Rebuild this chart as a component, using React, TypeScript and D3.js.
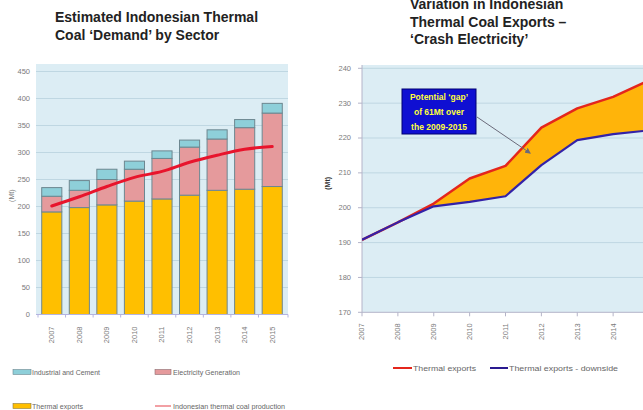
import React from "react";
import * as d3 from "d3";

// Demand by sector (Mt)
const years = ["2007", "2008", "2009", "2010", "2011", "2012", "2013", "2014", "2015"];
const thermalExportsDemand = [190, 198, 203, 210, 214, 221, 230, 232, 237];
const electricityGeneration = [29, 32, 47, 59, 75, 89, 95, 114, 136];
const industrialCement = [16, 18, 19, 15, 14, 13, 17, 15, 18];
const coalProduction = [201, 218, 237, 254, 265, 282, 295, 306, 311];
const demandTicks = [0, 50, 100, 150, 200, 250, 300, 350, 400, 450];

// Export scenarios (Mt)
const exportYears = [2007, 2008, 2009, 2010, 2011, 2012, 2013, 2014, 2015];
const thermalExports = [190.8, 195.8, 201.2, 208.4, 212, 223, 228.5, 231.8, 236.5];
const thermalExportsDownside = [190.8, 195.8, 200.4, 201.7, 203.3, 212.2, 219.4, 221.1, 222.2];
const exportTicks = [170, 180, 190, 200, 210, 220, 230, 240];

const W = 643;
const H = 410;
const PLOT_BG = "#dcedf4";
const GRID = "#bfd7e2";
const TICK_TXT = "#7a7a7a";
const FONT = "'Liberation Sans', Arial, sans-serif";

const seriesColors = {
  thermal: "#ffbf00",
  electricity: "#e59a9c",
  industrial: "#8ecfd9",
};

export default function App() {
  // Left chart scales
  const xL = d3.scaleBand<string>().domain(years).range([38, 286]).paddingInner(0.27).paddingOuter(0.135);
  const yL = d3.scaleLinear().domain([0, 450]).range([314.5, 71.5]);

  const stacked = d3
    .stack<number>()
    .keys(["thermal", "electricity", "industrial"])
    .value((i, key) =>
      key === "thermal" ? thermalExportsDemand[i] : key === "electricity" ? electricityGeneration[i] : industrialCement[i]
    )(d3.range(years.length));

  const prodLine = d3
    .line<number>()
    .x((_, i) => (xL(years[i]) as number) + xL.bandwidth() / 2)
    .y((d) => yL(d))
    .curve(d3.curveMonotoneX);

  // Right chart scales
  const xR = d3.scaleLinear().domain([2007, 2015]).range([362, 649]);
  const yR = d3.scaleLinear().domain([170, 240]).range([312.3, 68.3]);

  const exportLine = d3
    .line<number>()
    .x((_, i) => xR(exportYears[i]))
    .y((d) => yR(d));

  const gapArea = d3
    .area<number>()
    .x((i) => xR(exportYears[i]))
    .y0((i) => yR(thermalExportsDownside[i]))
    .y1((i) => yR(thermalExports[i]));

  const arrowStart: [number, number] = [477, 117];
  const arrowEnd: [number, number] = [530, 153];

  return (
    <svg
      width={W}
      height={H}
      style={{ position: "absolute", left: 0, top: 0, background: "#ffffff" }}
      fontFamily={FONT}
    >
      <defs>
        <marker id="arrowHead" viewBox="0 0 10 10" refX="8" refY="5" markerWidth="6" markerHeight="6" orient="auto">
          <path d="M0,0 L10,5 L0,10 z" fill="#6a6a7a" />
        </marker>
        <clipPath id="rightClip">
          <rect x={362} y={60} width={W - 362} height={260} />
        </clipPath>
      </defs>

      {/* ---------- Left: demand by sector ---------- */}
      <text x={55} y={22} fontSize={14} fontWeight="bold" fill="#222">
        Estimated Indonesian Thermal
      </text>
      <text x={55} y={39.5} fontSize={14} fontWeight="bold" fill="#222">
        Coal ‘Demand’ by Sector
      </text>

      <rect x={36} y={64} width={252} height={yL(0) - 64} fill={PLOT_BG} />
      {demandTicks.map((t) => (
        <g key={t}>
          {t > 0 && <line x1={36} x2={288} y1={yL(t)} y2={yL(t)} stroke={GRID} strokeWidth={1} />}
          <text x={30} y={yL(t)} dy="0.32em" fontSize={7.5} fill={TICK_TXT} textAnchor="end">
            {t}
          </text>
        </g>
      ))}
      <text
        transform={`translate(14,${yL(220)}) rotate(-90)`}
        fontSize={7}
        fill={TICK_TXT}
        textAnchor="middle"
      >
        (Mt)
      </text>

      {stacked.map((layer) => (
        <g key={layer.key}>
          {layer.map((seg, i) => (
            <rect
              key={years[i]}
              x={xL(years[i])}
              width={xL.bandwidth()}
              y={yL(seg[1])}
              height={yL(seg[0]) - yL(seg[1])}
              fill={seriesColors[layer.key as keyof typeof seriesColors]}
              stroke="#6d8790"
              strokeWidth={1}
            />
          ))}
        </g>
      ))}

      <line x1={36} x2={288} y1={yL(0)} y2={yL(0)} stroke="#b4b4e0" strokeWidth={1.2} />
      {years.map((y, i) => (
        <g key={y}>
          <line
            x1={(xL(y) as number) - (xL.step() - xL.bandwidth()) / 2}
            x2={(xL(y) as number) - (xL.step() - xL.bandwidth()) / 2}
            y1={yL(0)}
            y2={yL(0) + 3}
            stroke="#b4b4e0"
          />
          {i === years.length - 1 && (
            <line x1={288} x2={288} y1={yL(0)} y2={yL(0) + 3} stroke="#b4b4e0" />
          )}
          <text
            transform={`translate(${(xL(y) as number) + xL.bandwidth() / 2},${yL(0) + 12}) rotate(-90)`}
            fontSize={7.5}
            fill={TICK_TXT}
            textAnchor="end"
            dy="0.32em"
          >
            {y}
          </text>
        </g>
      ))}

      <path d={prodLine(coalProduction) ?? ""} fill="none" stroke="#e8142c" strokeWidth={3} strokeLinecap="round" />

      {/* left legend */}
      <rect x={13} y={369.5} width={18} height={5} fill={seriesColors.industrial} stroke="#6d8790" strokeWidth={0.6} />
      <text x={32} y={372} dy="0.32em" fontSize={8} fill="#666" textLength={68} lengthAdjust="spacingAndGlyphs">
        Industrial and Cement
      </text>
      <rect x={155} y={369.5} width={16} height={5} fill={seriesColors.electricity} stroke="#8a6a6e" strokeWidth={0.6} />
      <text x={173} y={372} dy="0.32em" fontSize={8} fill="#666" textLength={67} lengthAdjust="spacingAndGlyphs">
        Electricity Generation
      </text>
      <rect x={13} y={403.5} width={18} height={5} fill={seriesColors.thermal} stroke="#8a7a40" strokeWidth={0.6} />
      <text x={32} y={406} dy="0.32em" fontSize={8} fill="#666" textLength={51} lengthAdjust="spacingAndGlyphs">
        Thermal exports
      </text>
      <line x1={155} x2={171} y1={406} y2={406} stroke="#f2a0a4" strokeWidth={2} />
      <text x={173} y={406} dy="0.32em" fontSize={8} fill="#666" textLength={112} lengthAdjust="spacingAndGlyphs">
        Indonesian thermal coal production
      </text>

      {/* ---------- Right: export scenarios ---------- */}
      <text x={410} y={9} fontSize={14} fontWeight="bold" fill="#222">
        Variation in Indonesian
      </text>
      <text x={410} y={26.5} fontSize={14} fontWeight="bold" fill="#222">
        Thermal Coal Exports –
      </text>
      <text x={410} y={43.5} fontSize={14} fontWeight="bold" fill="#222">
        ‘Crash Electricity’
      </text>

      <rect x={362} y={65} width={W - 362} height={yR(170) - 65} fill={PLOT_BG} />
      {exportTicks.map((t) => (
        <g key={t}>
          {t > 170 && <line x1={362} x2={W} y1={yR(t)} y2={yR(t)} stroke={GRID} strokeWidth={1} />}
          <line x1={358} x2={362} y1={yR(t)} y2={yR(t)} stroke="#b4b4c8" />
          <text x={351} y={yR(t)} dy="0.32em" fontSize={7.5} fill={TICK_TXT} textAnchor="end">
            {t}
          </text>
        </g>
      ))}
      <text
        transform={`translate(330,${yR(207)}) rotate(-90)`}
        fontSize={7}
        fontWeight="bold"
        fill="#333"
        textAnchor="middle"
      >
        (Mt)
      </text>
      <line x1={362} x2={362} y1={65} y2={yR(170)} stroke="#b4b4c8" />
      <line x1={362} x2={W} y1={yR(170)} y2={yR(170)} stroke="#b4b4c8" />

      <g clipPath="url(#rightClip)">
        <path d={gapArea(d3.range(exportYears.length)) ?? ""} fill="#ffb40a" />
        <path d={exportLine(thermalExports) ?? ""} fill="none" stroke="#e4261c" strokeWidth={2.5} strokeLinejoin="round" />
        <path d={exportLine(thermalExportsDownside) ?? ""} fill="none" stroke="#3322a8" strokeWidth={2.2} strokeLinejoin="round" />
      </g>

      {exportYears.map((y) => (
        <g key={y}>
          <line x1={xR(y)} x2={xR(y)} y1={yR(170)} y2={yR(170) + 4} stroke="#b4b4c8" />
          <text
            transform={`translate(${xR(y)},${yR(170) + 11}) rotate(-90)`}
            fontSize={7.5}
            fill={TICK_TXT}
            textAnchor="end"
            dy="0.32em"
          >
            {y}
          </text>
        </g>
      ))}

      {/* annotation */}
      <line
        x1={arrowStart[0]}
        y1={arrowStart[1]}
        x2={arrowEnd[0]}
        y2={arrowEnd[1]}
        stroke="#6a6a7a"
        strokeWidth={1}
        markerEnd="url(#arrowHead)"
      />
      <rect x={402} y={89} width={74} height={45} fill="#0f0fd2" stroke="#000070" strokeWidth={1} />
      <g fontSize={8.5} fontWeight="bold" fill="#ffff3c" textAnchor="middle">
        <text x={439} y={99.5}>Potential ‘gap’</text>
        <text x={439} y={115}>of 61Mt over</text>
        <text x={439} y={129.5}>the 2009-2015</text>
      </g>

      {/* right legend */}
      <line x1={393} x2={412} y1={368} y2={368} stroke="#e4261c" strokeWidth={2} />
      <text x={413} y={368} dy="0.32em" fontSize={8} fill="#666" textLength={63} lengthAdjust="spacingAndGlyphs">
        Thermal exports
      </text>
      <line x1={490} x2={508} y1={368} y2={368} stroke="#2a1a90" strokeWidth={2} />
      <text x={509} y={368} dy="0.32em" fontSize={8} fill="#666" textLength={109} lengthAdjust="spacingAndGlyphs">
        Thermal exports - downside
      </text>
    </svg>
  );
}
